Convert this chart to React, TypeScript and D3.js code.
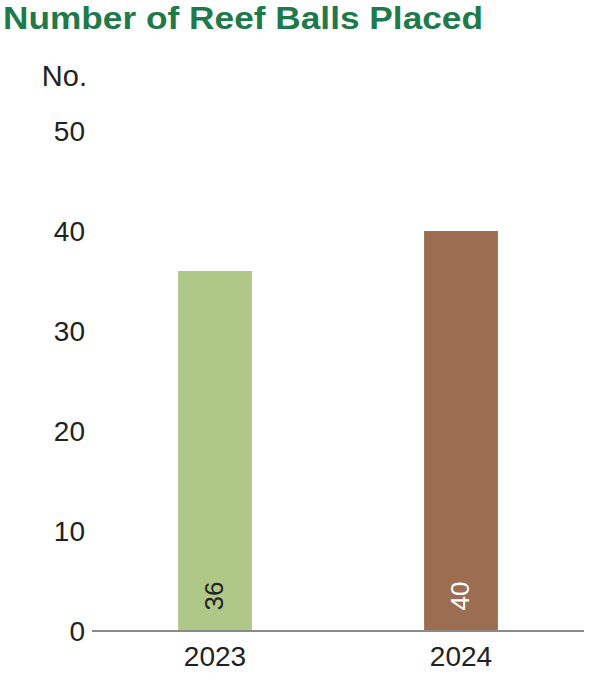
import React from "react";
import * as d3 from "d3";

const title = "Number of Reef Balls Placed";
const unitLabel = "No.";
const years = ["2023", "2024"];
const values = [36, 40];
const barColors = ["#afc887", "#9b6e52"];
const valueLabelColors = ["#222222", "#ffffff"];
const yTicks = [0, 10, 20, 30, 40, 50];

export default function App() {
  const W = 600, H = 680;
  const x0 = 92, x1 = 584;
  const yBase = 631, yTop = 131;
  const x = d3.scaleBand<string>().domain(years).range([x0, x1]).paddingInner(0.7).paddingOuter(0.35);
  const y = d3.scaleLinear().domain([0, 50]).range([yBase, yTop]);
  const font = "'Liberation Sans', Arial, Helvetica, sans-serif";
  return (
    <svg width={W} height={H} style={{ position: "absolute", left: 0, top: 0, display: "block" }} fontFamily={font}>
      <rect width={W} height={H} fill="#fff" />
      <text x={3} y={28.8} fontSize={31.8} fontWeight="bold" fill="#1f7a4b" textLength={480} lengthAdjust="spacingAndGlyphs">{title}</text>
      <text x={87} y={86} fontSize={29} fill="#222" textAnchor="end">{unitLabel}</text>
      {yTicks.map((t) => (
        <text key={t} x={85} y={y(t) + 10} fontSize={28} fill="#222" textAnchor="end">{t}</text>
      ))}
      {years.map((yr, i) => (
        <rect key={yr} x={x(yr)!} y={y(values[i])} width={x.bandwidth()} height={yBase - y(values[i])} fill={barColors[i]} />
      ))}
      <line x1={x0} x2={x1} y1={yBase} y2={yBase} stroke="#8a8a8a" strokeWidth={2} />
      {years.map((yr, i) => {
        const cx = x(yr)! + x.bandwidth() / 2;
        return (
          <g key={"l" + yr}>
            <text x={cx} y={666} fontSize={28} fill="#222" textAnchor="middle">{yr}</text>
            <text transform={`translate(${cx + 8},596) rotate(-90)`} fontSize={26} fill={valueLabelColors[i]} textAnchor="middle">{values[i]}</text>
          </g>
        );
      })}
    </svg>
  );
}
